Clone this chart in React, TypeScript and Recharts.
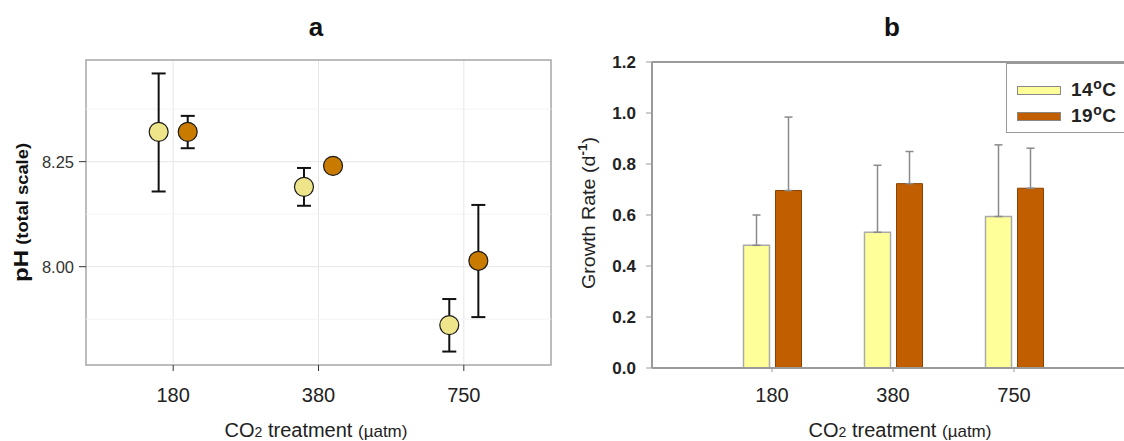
import {
  Bar,
  BarChart,
  CartesianGrid,
  ErrorBar,
  Legend,
  ReferenceArea,
  ReferenceLine,
  Scatter,
  ScatterChart,
  XAxis,
  YAxis,
} from 'recharts'

// CO2 treatments (µatm)
const CATEGORIES = ['180', '380', '750']

// panel a: pH (total scale), mean with lower / upper error bounds
const PH_14_MEAN = [8.321, 8.19, 7.861]
const PH_14_LOW = [8.179, 8.145, 7.798]
const PH_14_HIGH = [8.46, 8.235, 7.923]
const PH_19_MEAN = [8.321, 8.24, 8.014]
const PH_19_LOW = [8.282, 8.232, 7.88]
const PH_19_HIGH = [8.359, 8.248, 8.147]
const PH_TICKS = [8.0, 8.25]
const PH_MINOR = [7.875, 8.125, 8.375]
const PH_DOMAIN = [7.766, 8.492]

// panel b: growth rate (d-1), bar value and top of error bar
const GROWTH_14 = [0.481, 0.532, 0.594]
const GROWTH_14_TOP = [0.6, 0.795, 0.875]
const GROWTH_19 = [0.696, 0.723, 0.705]
const GROWTH_19_TOP = [0.984, 0.849, 0.862]
const GROWTH_TICKS = [0, 0.2, 0.4, 0.6, 0.8, 1.0, 1.2]

const SERIES = ['14', '19']

const DODGE = 0.1
const FONT = '"Liberation Sans", Arial, sans-serif'
const LIGHT = '#EEE58A'
const DARK = '#C97B00'
const BAR_LIGHT = '#FFFF99'
const BAR_DARK = '#C05E00'

const ph14 = PH_14_MEAN.map((y, i) => ({
  x: i + 1 - DODGE,
  y,
  err: [y - PH_14_LOW[i], PH_14_HIGH[i] - y],
}))
const ph19 = PH_19_MEAN.map((y, i) => ({
  x: i + 1 + DODGE,
  y,
  err: [y - PH_19_LOW[i], PH_19_HIGH[i] - y],
}))

const growth = CATEGORIES.map((cat, i) => ({
  cat,
  g14: GROWTH_14[i],
  g14err: [0, GROWTH_14_TOP[i] - GROWTH_14[i]],
  g19: GROWTH_19[i],
  g19err: [0, GROWTH_19_TOP[i] - GROWTH_19[i]],
}))

function dot(fill: string) {
  return (p: any) => (
    <circle cx={p.cx} cy={p.cy} r={9.5} fill={fill} stroke="#1a1a1a" strokeWidth={1.2} />
  )
}

function GrowthLegend({ payload }: any) {
  return (
    <div
      style={{
        border: '1.5px solid #9a9a9a',
        background: '#fff',
        height: 70,
        boxSizing: 'border-box',
        padding: '13px 0 0 10px',
        fontFamily: FONT,
      }}
    >
      {(payload ?? []).map((entry: any) => (
        <div key={entry.value} style={{ display: 'flex', alignItems: 'center', height: 26 }}>
          <span
            style={{
              display: 'inline-block',
              width: 44,
              height: 9,
              background: entry.color,
              border: '1px solid #888',
              boxSizing: 'border-box',
              marginRight: 10,
            }}
          />
          <span style={{ fontWeight: 'bold', fontSize: 19, color: '#222', letterSpacing: 0.5 }}>
            {entry.value}
            <sup style={{ fontSize: 14, lineHeight: 0 }}>o</sup>C
          </span>
        </div>
      ))}
    </div>
  )
}

function AxisTitle({ x }: { x: number }) {
  return (
    <text x={x} y={437} textAnchor="middle" fill="#222" fontFamily={FONT}>
      <tspan fontSize={20}>CO</tspan>
      <tspan fontSize={14}>2</tspan>
      <tspan fontSize={20}> treatment </tspan>
      <tspan fontSize={17}>(µatm)</tspan>
    </text>
  )
}

export default function App() {
  return (
    <div
      style={{
        position: 'absolute',
        left: 0,
        top: 0,
        width: 1124,
        height: 441,
        overflow: 'hidden',
        background: '#fff',
        fontFamily: FONT,
      }}
    >
      <div style={{ position: 'absolute', left: 0, top: 0 }}>
        <ScatterChart width={560} height={441} margin={{ top: 60, right: 9, bottom: 46, left: 0 }}>
          <CartesianGrid stroke="#e6e6e6" verticalValues={[1, 2, 3]} horizontalValues={PH_TICKS} />
          {PH_MINOR.map((v) => (
            <ReferenceLine key={v} y={v} stroke="#f3f3f3" />
          ))}
          <XAxis
            type="number"
            dataKey="x"
            domain={[0.4, 3.6]}
            ticks={[1, 2, 3]}
            allowDataOverflow
            tickFormatter={(v) => CATEGORIES[Number(v) - 1] ?? ''}
            axisLine={false}
            tickLine={{ stroke: '#333' }}
            tickSize={6}
            tickMargin={17}
            height={30}
            tick={{ fontSize: 20, fill: '#222', fontFamily: FONT }}
          />
          <YAxis
            type="number"
            dataKey="y"
            domain={PH_DOMAIN}
            ticks={PH_TICKS}
            allowDataOverflow
            width={86}
            axisLine={false}
            tickLine={{ stroke: '#333' }}
            tickSize={7}
            tickMargin={5}
            tickFormatter={(v) => Number(v).toFixed(2)}
            tick={{ fontSize: 16.5, fill: '#333', fontFamily: FONT }}
          />
          <ReferenceArea
            x1={0.4}
            x2={3.6}
            y1={PH_DOMAIN[0]}
            y2={PH_DOMAIN[1]}
            fill="none"
            stroke="#a6a6a6"
            strokeWidth={1.5}
          />
          <Scatter data={ph14} shape={dot(LIGHT)} isAnimationActive={false}>
            <ErrorBar dataKey="err" direction="y" width={7} stroke="#111" strokeWidth={2} />
          </Scatter>
          <Scatter data={ph19} shape={dot(DARK)} isAnimationActive={false}>
            <ErrorBar dataKey="err" direction="y" width={7} stroke="#111" strokeWidth={2} />
          </Scatter>
        </ScatterChart>
      </div>

      <div style={{ position: 'absolute', left: 560, top: 0 }}>
        <BarChart
          width={576}
          height={441}
          data={growth}
          barSize={26}
          barGap={6}
          margin={{ top: 62, right: 0, bottom: 43, left: 0 }}
        >
          <XAxis
            dataKey="cat"
            padding={{ left: 59.5, right: 61.5 }}
            axisLine={{ stroke: '#9a9a9a', strokeWidth: 2 }}
            tickLine={{ stroke: '#9a9a9a' }}
            tickSize={4}
            tickMargin={16}
            height={30}
            tick={{ fontSize: 20, fill: '#222', fontFamily: FONT }}
          />
          <YAxis
            type="number"
            domain={[0, 1.2]}
            ticks={GROWTH_TICKS}
            width={92}
            axisLine={{ stroke: '#9a9a9a', strokeWidth: 2 }}
            tickLine={{ stroke: '#9a9a9a' }}
            tickSize={6}
            tickMargin={10}
            tickFormatter={(v) => Number(v).toFixed(1)}
            tick={{ fontSize: 17, fill: '#222', fontWeight: 'bold', fontFamily: FONT }}
          />
          <ReferenceLine y={1.2} stroke="#9a9a9a" strokeWidth={2} />
          <Legend
            layout="vertical"
            align="center"
            verticalAlign="middle"
            width={140}
            wrapperStyle={{ left: 446, top: 63 }}
            content={GrowthLegend}
          />
          <Bar
            dataKey="g14"
            name={SERIES[0]}
            fill={BAR_LIGHT}
            stroke="#aaaaaa"
            strokeWidth={1.5}
            isAnimationActive={false}
          >
            <ErrorBar dataKey="g14err" direction="y" width={4} stroke="#8a8a8a" strokeWidth={1.5} />
          </Bar>
          <Bar
            dataKey="g19"
            name={SERIES[1]}
            fill={BAR_DARK}
            stroke="#8a4300"
            strokeWidth={1}
            isAnimationActive={false}
          >
            <ErrorBar dataKey="g19err" direction="y" width={4} stroke="#8a8a8a" strokeWidth={1.5} />
          </Bar>
        </BarChart>
      </div>

      <svg
        width={1124}
        height={441}
        style={{ position: 'absolute', left: 0, top: 0, pointerEvents: 'none' }}
      >
        <text x={316} y={36} textAnchor="middle" fontSize={26} fontWeight="bold" fill="#111" fontFamily={FONT}>
          a
        </text>
        <text x={892} y={36} textAnchor="middle" fontSize={26} fontWeight="bold" fill="#111" fontFamily={FONT}>
          b
        </text>
        <AxisTitle x={316} />
        <AxisTitle x={900} />
        <text
          transform="translate(28,212.5) rotate(-90)"
          textAnchor="middle"
          fontWeight="bold"
          fill="#111"
          fontFamily={FONT}
          textLength={139}
          lengthAdjust="spacingAndGlyphs"
        >
          <tspan fontSize={21}>pH</tspan>
          <tspan fontSize={16}> (total scale)</tspan>
        </text>
        <text
          transform="translate(595,213) rotate(-90)"
          textAnchor="middle"
          fill="#222"
          fontFamily={FONT}
          fontSize={19}
          textLength={152}
          lengthAdjust="spacingAndGlyphs"
        >
          <tspan>Growth Rate (d</tspan>
          <tspan fontSize={13} fontWeight="bold" dy={-8}>
            -1
          </tspan>
          <tspan dy={8}>)</tspan>
        </text>
      </svg>
    </div>
  )
}
